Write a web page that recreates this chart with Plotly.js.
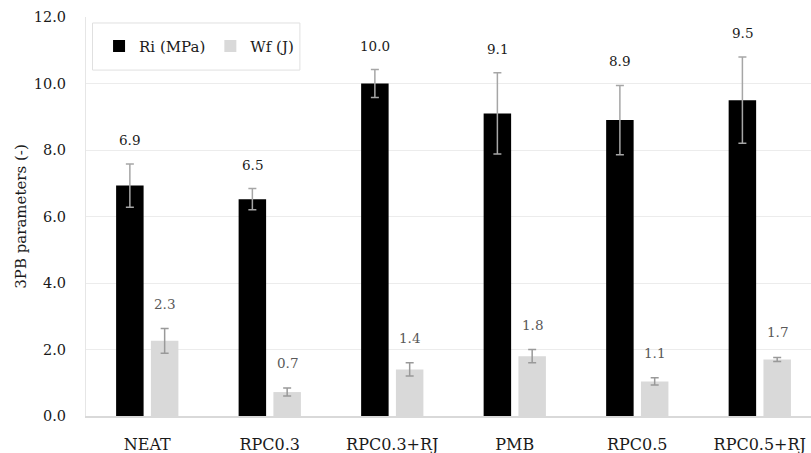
<!DOCTYPE html>
<html>
<head>
<meta charset="utf-8">
<script src="https://cdn.plot.ly/plotly-3.0.1.min.js"></script>
<style>
  html, body { margin: 0; padding: 0; background: #fff; }
  #chart { width: 811px; height: 453px; }
</style>
</head>
<body>
<div id="chart"></div>
<script>
//chart data
const categories = ['NEAT', 'RPC0.3', 'RPC0.3+RJ', 'PMB', 'RPC0.5', 'RPC0.5+RJ'];
const riValues = [6.93, 6.52, 10.0, 9.1, 8.9, 9.5];
const riErrors = [0.65, 0.32, 0.42, 1.22, 1.04, 1.3];
const wfValues = [2.26, 0.72, 1.4, 1.8, 1.04, 1.7];
const wfErrors = [0.37, 0.12, 0.2, 0.2, 0.11, 0.06];
const riLabels = ['6.9', '6.5', '10.0', '9.1', '8.9', '9.5'];
const wfLabels = ['2.3', '0.7', '1.4', '1.8', '1.1', '1.7'];

const font = 'DejaVu Serif, serif';

let riTrace = {
  type: 'bar',
  name: 'Ri (MPa)',
  x: categories,
  y: riValues,
  marker: {color: '#000000'},
  error_y: {type: 'data', array: riErrors, visible: true, color: '#a6a6a6', thickness: 1.5, width: 4},
  hoverinfo: 'skip'
}

let wfTrace = {
  type: 'bar',
  name: 'Wf (J)',
  x: categories,
  y: wfValues,
  marker: {color: '#d9d9d9'},
  error_y: {type: 'data', array: wfErrors, visible: true, color: '#999999', thickness: 1.5, width: 4},
  hoverinfo: 'skip'
}

//value labels sit above the error bars
let annotations = [];
categories.forEach((c, i) => {
  annotations.push({
    x: c, y: riValues[i] + riErrors[i], xref: 'x', yref: 'y',
    text: riLabels[i], showarrow: false, xshift: -17.4, yshift: 24,
    font: {family: font, size: 13.5, color: '#1a1a1a'}
  });
  annotations.push({
    x: c, y: wfValues[i] + wfErrors[i], xref: 'x', yref: 'y',
    text: wfLabels[i], showarrow: false, xshift: 17.4, yshift: 25,
    font: {family: font, size: 13.5, color: '#595959'}
  });
});

let layout = {
  width: 811,
  height: 453,
  margin: {l: 86, r: 0, t: 17, b: 37},
  paper_bgcolor: '#ffffff',
  plot_bgcolor: '#ffffff',
  font: {family: font, size: 14, color: '#1a1a1a'},
  barmode: 'group',
  bargap: 0.432,
  bargroupgap: 0.21,
  showlegend: true,
  legend: {
    orientation: 'h',
    x: 0.018, y: 0.927, xanchor: 'left', yanchor: 'middle',
    bgcolor: 'rgba(0,0,0,0)',
    font: {family: font, size: 15, color: '#1a1a1a'},
    itemclick: false, itemdoubleclick: false
  },
  xaxis: {
    type: 'category',
    range: [-0.5, 5.418],
    showgrid: false,
    showline: true,
    linecolor: '#d9d9d9',
    linewidth: 1.5,
    ticks: '',
    ticklabelstandoff: 13,
    tickfont: {family: font, size: 16, color: '#1a1a1a'},
    fixedrange: true
  },
  yaxis: {
    range: [0, 12],
    dtick: 2,
    tickformat: '.1f',
    showgrid: true,
    gridcolor: '#ececec',
    gridwidth: 1,
    zeroline: false,
    showline: true,
    linecolor: '#e6e6e6',
    ticks: '',
    ticklabelstandoff: 16,
    tickfont: {family: font, size: 14.5, color: '#1a1a1a'},
    title: {text: '3PB parameters (-)', font: {family: font, size: 15, color: '#1a1a1a'}, standoff: 3},
    automargin: false,
    fixedrange: true
  },
  shapes: [{
    type: 'rect', xref: 'paper', yref: 'paper',
    x0: 0.009, x1: 0.295, y0: 0.867, y1: 0.985,
    line: {color: '#e0e0e0', width: 1}, fillcolor: 'rgba(0,0,0,0)'
  }],
  annotations: annotations
}

let staticConfig = {staticPlot: true, displayModeBar: false}

Plotly.newPlot('chart', [riTrace, wfTrace], layout, staticConfig);
</script>
</body>
</html>
